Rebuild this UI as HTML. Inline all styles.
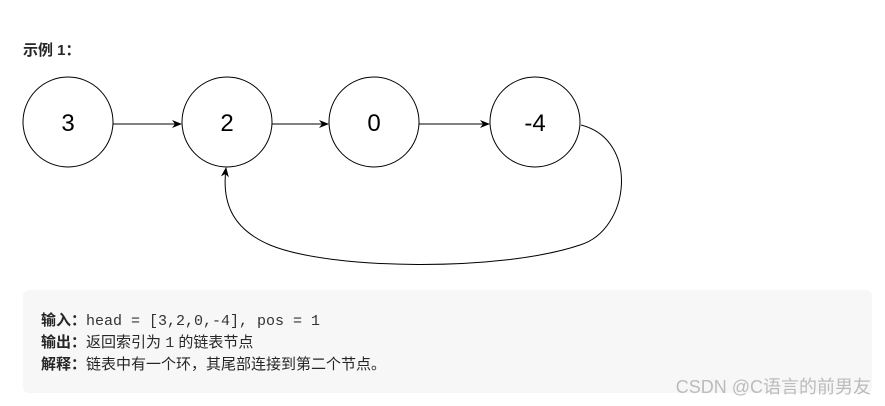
<!DOCTYPE html>
<html><head><meta charset="utf-8"><style>
body{margin:0;width:885px;height:406px;background:#fff;position:relative;overflow:hidden;font-family:"Liberation Sans","Noto Sans CJK SC",sans-serif}
.t{position:absolute;left:23px;top:39px;font-size:15px;font-weight:bold;color:#262626}
.box{position:absolute;left:23px;top:290px;width:849px;height:103px;background:#f7f7f8;border-radius:6px}
.l{position:absolute;left:41px;font-size:15px;color:#262626}
.l b{font-weight:bold}
.m{font-family:"Liberation Mono","Noto Sans CJK SC",monospace;font-size:15px;color:#333}
.wm{position:absolute;right:14px;top:373px;font-size:18px;color:#bbb}
</style></head><body>
<div class="t">示例 1：</div>
<svg width="885" height="290" style="position:absolute;left:0;top:0" font-family="Liberation Sans, sans-serif">
<defs><marker id="a" markerWidth="10" markerHeight="10" refX="9" refY="5" orient="auto" markerUnits="userSpaceOnUse"><path d="M0,1 L10,5 L0,9 L3,5z" fill="#000"/></marker></defs>
<g fill="#fff" stroke="#000" stroke-width="1">
<circle cx="68" cy="122" r="45"/><circle cx="227" cy="122" r="45"/><circle cx="374" cy="122" r="45"/><circle cx="535" cy="122" r="45"/>
</g>
<g font-size="24" text-anchor="middle" fill="#000">
<text x="68" y="131">3</text><text x="227" y="131">2</text><text x="374" y="131">0</text><text x="535" y="131">-4</text>
</g>
<g stroke="#000" fill="none" stroke-width="1">
<line x1="113" y1="124" x2="181" y2="124" marker-end="url(#a)"/>
<line x1="272" y1="124" x2="328" y2="124" marker-end="url(#a)"/>
<line x1="419" y1="124" x2="489" y2="124" marker-end="url(#a)"/>
<path d="M581,125 C640,140 630,230 580,245 C500,272 330,270 270,245 C230,228 222,200 226,168" marker-end="url(#a)"/>
</g>
</svg>
<div class="box"></div>
<div class="l" style="top:309px"><b>输入：</b><span class="m">head = [3,2,0,-4], pos = 1</span></div>
<div class="l" style="top:331px"><b>输出：</b>返回索引为 <span class="m">1</span> 的链表节点</div>
<div class="l" style="top:353px"><b>解释：</b>链表中有一个环，其尾部连接到第二个节点。</div>
<div class="wm">CSDN @C语言的前男友</div>
</body></html>
